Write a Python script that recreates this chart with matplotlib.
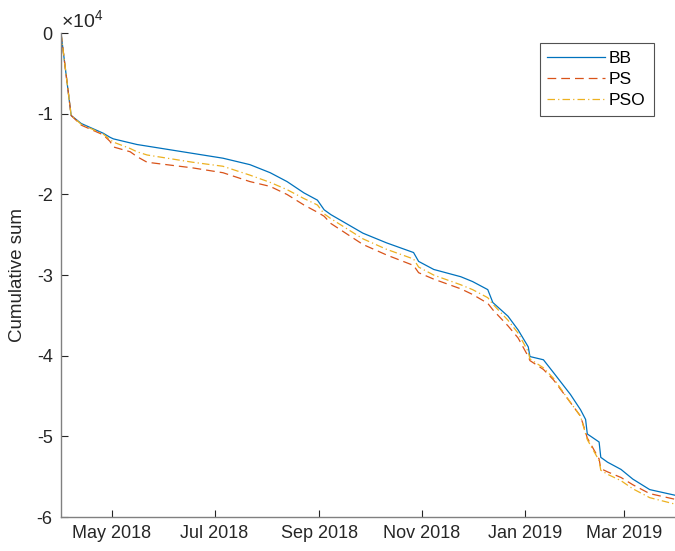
import numpy as np
import pandas as pd
import matplotlib
matplotlib.use("Agg")
import matplotlib.pyplot as plt
import matplotlib.dates as mdates
from matplotlib.ticker import FixedLocator, FuncFormatter

plt.rcParams["font.family"] = ["Liberation Sans", "DejaVu Sans"]
plt.rcParams["axes.unicode_minus"] = False

# values, in units of 1e4
dates = pd.to_datetime([
    "2018-04-01", "2018-04-07", "2018-04-13", "2018-04-26", "2018-04-30",
    "2018-05-02", "2018-05-12", "2018-05-16", "2018-05-22", "2018-06-18",
    "2018-07-06", "2018-07-22", "2018-08-03", "2018-08-13", "2018-08-23",
    "2018-08-31", "2018-09-04", "2018-09-08", "2018-09-27", "2018-10-11",
    "2018-10-27", "2018-10-30", "2018-11-08", "2018-11-24", "2018-12-01",
    "2018-12-10", "2018-12-13", "2018-12-22", "2018-12-28", "2019-01-03",
    "2019-01-04", "2019-01-12", "2019-01-18", "2019-01-28", "2019-02-03",
    "2019-02-06", "2019-02-07", "2019-02-14", "2019-02-15", "2019-02-19",
    "2019-02-27", "2019-03-06", "2019-03-16", "2019-03-31",
])
bb = [0, -1.02, -1.12, -1.24, -1.29, -1.31, -1.36, -1.38, -1.40, -1.49,
      -1.55, -1.63, -1.73, -1.84, -1.98, -2.07, -2.19, -2.25, -2.48, -2.60,
      -2.72, -2.83, -2.93, -3.02, -3.08, -3.18, -3.34, -3.51, -3.68, -3.89,
      -4.01, -4.05, -4.21, -4.48, -4.67, -4.79, -4.97, -5.07, -5.26, -5.32,
      -5.41, -5.53, -5.66, -5.73]
ps = [0, -1.02, -1.14, -1.26, -1.34, -1.41, -1.47, -1.53, -1.60, -1.67,
      -1.73, -1.84, -1.90, -2.00, -2.13, -2.22, -2.27, -2.36, -2.62, -2.75,
      -2.88, -2.97, -3.05, -3.17, -3.24, -3.35, -3.43, -3.63, -3.78, -4.01,
      -4.06, -4.17, -4.30, -4.58, -4.75, -4.95, -5.02, -5.28, -5.40, -5.44,
      -5.51, -5.60, -5.71, -5.78]
pso = [0, -1.02, -1.13, -1.25, -1.32, -1.35, -1.43, -1.47, -1.51, -1.60,
       -1.65, -1.76, -1.85, -1.94, -2.05, -2.13, -2.24, -2.30, -2.55, -2.68,
       -2.80, -2.90, -3.00, -3.12, -3.18, -3.28, -3.36, -3.56, -3.72, -3.95,
       -4.04, -4.15, -4.28, -4.58, -4.75, -4.97, -5.04, -5.30, -5.42, -5.47,
       -5.55, -5.65, -5.76, -5.84]
series_names = ["BB", "PS", "PSO"]
scale = 1e4

fig = plt.figure(figsize=(6.75, 5.51), dpi=100)
ax = fig.add_axes([0.0904, 0.0617, 0.9096, 0.878])

ax.plot(dates, np.array(bb) * scale, color="#0072BD", lw=0.9, label=series_names[0])
ax.plot(dates, np.array(ps) * scale, color="#D95319", lw=0.9,
        dashes=(7, 4), label=series_names[1])
ax.plot(dates, np.array(pso) * scale, color="#EDB120", lw=0.9,
        dashes=(6, 2.5, 1, 2.5), label=series_names[2])

ax.set_xlim(pd.Timestamp("2018-04-01"), pd.Timestamp("2019-03-31"))
ax.set_ylim(-6e4, 0)

ax.yaxis.set_major_locator(FixedLocator(np.arange(-6, 1) * scale))
ax.yaxis.set_major_formatter(FuncFormatter(lambda v, p: f"{int(round(v / scale))}"))
ax.xaxis.set_major_locator(mdates.MonthLocator(bymonth=[1, 3, 5, 7, 9, 11]))
ax.xaxis.set_major_formatter(mdates.DateFormatter("%b %Y"))

for side in ["top", "right"]:
    ax.spines[side].set_visible(False)
for side in ["left", "bottom"]:
    ax.spines[side].set_color("#808080")
    ax.spines[side].set_linewidth(1.0)
ax.tick_params(direction="in", length=5, width=0.8, color="#262626",
               labelsize=13, labelcolor="#262626", pad=6)

ax.set_ylabel("Cumulative sum", fontsize=13.5, color="#262626", labelpad=8)
ax.text(0.0, 1.004, r"$\mathregular{\times10^4}$", transform=ax.transAxes,
        fontsize=14, color="#262626", ha="left", va="bottom")

leg = ax.legend(loc="upper right", bbox_to_anchor=(0.965, 0.98), fontsize=12.5,
                frameon=True, fancybox=False, handlelength=3.3,
                borderpad=0.45, labelspacing=0.35, handletextpad=0.25,
                borderaxespad=0.0)
leg.get_frame().set_edgecolor("#262626")
leg.get_frame().set_linewidth(0.8)

fig.savefig("out.png", dpi=100)
